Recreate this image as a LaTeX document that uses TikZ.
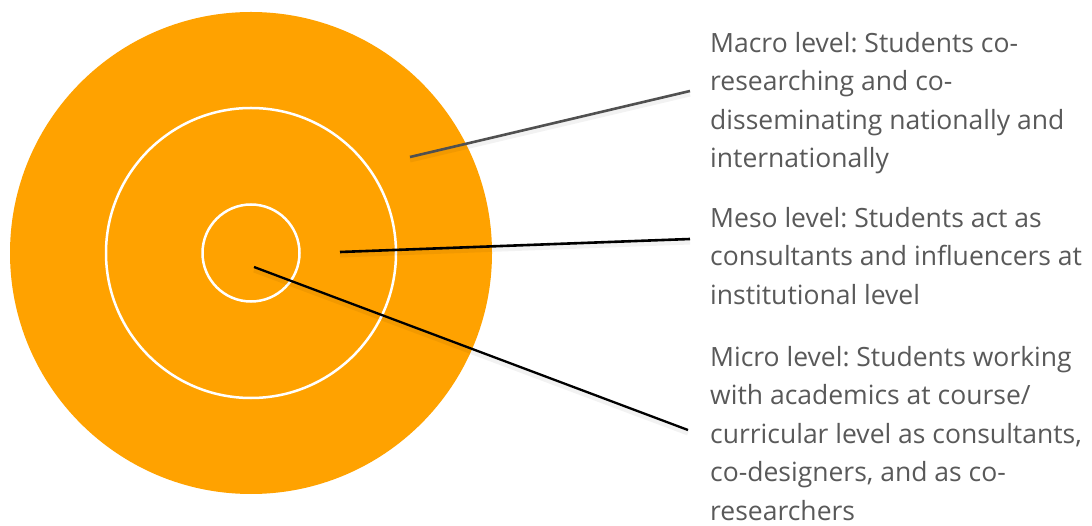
\documentclass[tikz,border=0pt]{standalone}
\usepackage{fontspec}
\setmainfont{Open Sans}
\frenchspacing
\definecolor{ring}{RGB}{255,162,0}
\definecolor{txt}{RGB}{89,89,89}
\definecolor{macroline}{RGB}{80,80,80}
\begin{document}
\begin{tikzpicture}[x=1pt,y=-1pt,
  label/.style={anchor=north west,inner sep=0pt,align=left,text=txt,font=\fontsize{26.5}{38.5}\selectfont},
  leader/.style={line width=2.6pt,line cap=butt},
  shade/.style={line width=5pt,draw=black,opacity=0.05}]
\useasboundingbox (0,0) rectangle (1092,526);
\node[circle,fill=ring,inner sep=0pt,minimum size=482pt] (outer) at (251,253) {};
\node[circle,draw=white,line width=2.5pt,inner sep=0pt,minimum size=290pt] (middle) at (251,253) {};
\node[circle,draw=white,line width=2.5pt,inner sep=0pt,minimum size=97pt] (inner) at (251,253) {};
\node[label] (macro) at (710,32) {Macro level: Students co-\\researching and co-\\disseminating nationally and\\internationally};
\node[label] (meso) at (710,207) {Meso level: Students act as\\consultants and influencers at\\institutional level};
\node[label] (micro) at (710,346) {Micro level: Students working\\with academics at course/\\curricular level as consultants,\\co-designers, and as co-\\researchers};
\coordinate (macroA) at (410,157);
\coordinate (macroB) at (690,91);
\coordinate (mesoA) at (340,252);
\coordinate (mesoB) at (690,239);
\coordinate (microA) at (254,267);
\coordinate (microB) at (688,430);
\draw[shade] ([yshift=-3pt]macroA) -- ([yshift=-3pt]macroB);
\draw[shade] ([yshift=-3pt]mesoA) -- ([yshift=-3pt]mesoB);
\draw[shade] ([yshift=-3pt]microA) -- ([yshift=-3pt]microB);
\draw[leader,draw=macroline] (macroA) -- (macroB);
\draw[leader,draw=black] (mesoA) -- (mesoB);
\draw[leader,draw=black,line width=2.3pt] (microA) -- (microB);
\end{tikzpicture}
\end{document}
